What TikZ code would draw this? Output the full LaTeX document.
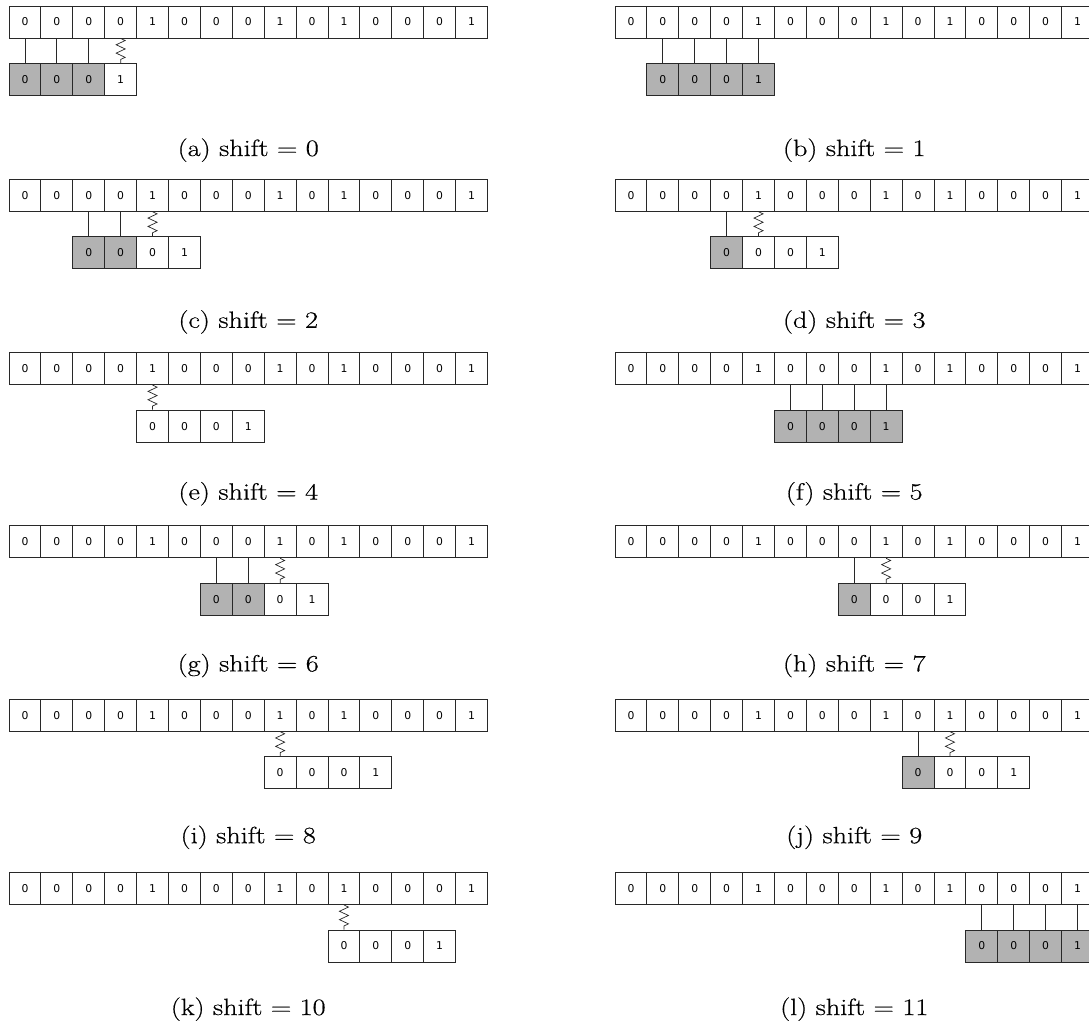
\documentclass[tikz,border=0pt]{standalone}
\usepackage{fontspec}
\usepackage{graphicx}
\usetikzlibrary{decorations.pathmorphing}
\newfontfamily\cellfont{DejaVu Sans}
\newfontfamily\capfont[FakeBold=0.5]{Latin Modern Roman}
\definecolor{matchgray}{RGB}{178,178,178}
\definecolor{edgegray}{RGB}{40,40,40}
\begin{document}
\begin{tikzpicture}[x=1pt,y=-1pt,
  cellbox/.style={draw=edgegray, line width=0.9pt, minimum width=31.9pt, minimum height=32pt, inner sep=0pt, font=\cellfont\fontsize{10.8}{12}\selectfont},
  hitbox/.style={cellbox, fill=matchgray},
  link/.style={draw=edgegray, line width=0.9pt},
  misslink/.style={draw=edgegray, line width=0.7pt, decorate, decoration={zigzag, segment length=8.4pt, amplitude=4.5pt}},
  captext/.style={font=\capfont\fontsize{23.5}{28}\selectfont, anchor=base, inner sep=0pt}]
\useasboundingbox (0,0) rectangle (1089,1023);
\foreach \lab/\sh/\m/\z/\col/\row in {a/0/3/1/0/0, b/1/4/0/1/0, c/2/2/1/0/1, d/3/1/1/1/1, e/4/0/1/0/2, f/5/4/0/1/2, g/6/2/1/0/3, h/7/1/1/1/3, i/8/0/1/0/4, j/9/1/1/1/4, k/10/0/1/0/5, l/11/4/0/1/5} {
  \pgfmathsetmacro\xo{9+606*\col}
  \pgfmathsetmacro\yo{6+173.3*\row}
  \pgfmathsetmacro\yc{156+171.8*\row}
  \foreach[count=\i from 0] \v in {0,0,0,0,1,0,0,0,1,0,1,0,0,0,1}
    \node[cellbox] (t-\lab-\i) at ({\xo+31.9*\i+15.95},{\yo+16}) {\v};
  \foreach[count=\j from 0] \v in {0,0,0,1} {
    \pgfmathtruncatemacro\k{\sh+\j}
    \ifnum\j<\m\relax\def\sty{hitbox}\else\def\sty{cellbox}\fi
    \node[\sty] (p-\lab-\j) at ({\xo+31.9*\k+15.95},{\yo+73.5}) {\v};
    \ifnum\j<\m\relax
      \draw[link] (t-\lab-\k.south) -- (p-\lab-\j.north);
    \fi
    \ifnum\j=\m\relax
      \ifnum\z=1\relax
        \draw[misslink] (t-\lab-\k.south) -- (p-\lab-\j.north);
      \fi
    \fi
  }
  \node[captext] (cap-\lab) at ({\xo+239.25},{\yc}) {\scalebox{1.2}[1]{(\lab) shift = \sh}};
}
\end{tikzpicture}
\end{document}
